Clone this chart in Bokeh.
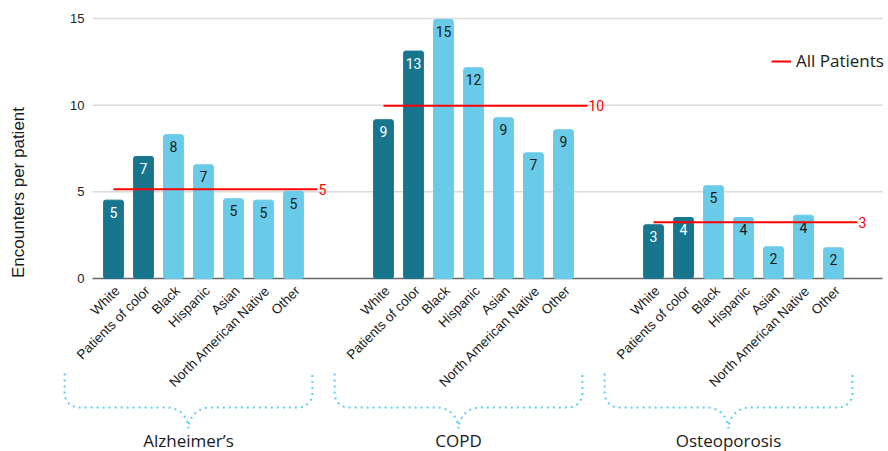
import numpy as np
from bokeh.plotting import figure
from bokeh.models import ColumnDataSource, Range1d
from bokeh.core.properties import value
from bokeh.embed import file_html
from bokeh.resources import INLINE

# ---------------- data ----------------
groups = ["Alzheimer\u2019s", "COPD", "Osteoporosis"]
categories = ["White", "Patients of color", "Black", "Hispanic", "Asian",
              "North American Native", "Other"]
alzheimers = [4.52, 7.04, 8.30, 6.56, 4.60, 4.52, 5.04]
copd = [9.16, 13.12, 14.94, 12.16, 9.27, 7.25, 8.58]
osteoporosis = [3.10, 3.52, 5.35, 3.52, 1.83, 3.65, 1.77]
all_patients = [5.15, 9.96, 3.25]
y_ticks = [0, 5, 10, 15]
y_title = "Encounters per patient"
legend_text = "All Patients"

# ---------------- styling / layout ----------------
DARK = "#18758e"
LIGHT = "#69cbe7"
RED = "#ff0000"
BRACE = "#5ad0ec"
W, H = 888, 451
UNIT_X = 30.0                 # px per category slot
ORIGIN_X = 113.0              # px of first bar centre
ZERO_Y, TOP_Y = 278.0, 18.0   # px of y=0 and y=15
GAP = 2                       # empty slots between groups
STEP = len(categories) + GAP
sy = (ZERO_Y - TOP_Y) / 15.0
sx = UNIT_X
x0, x1 = -ORIGIN_X / sx, (W - ORIGIN_X) / sx
y0, y1 = -(H - ZERO_Y) / sy, ZERO_Y / sy
grid_x0, grid_x1 = (92 - ORIGIN_X) / sx, (882 - ORIGIN_X) / sx

series = [alzheimers, copd, osteoporosis]
xs, tops, cols, lbls, lcols, cats = [], [], [], [], [], []
for g, vals in enumerate(series):
    for i, v in enumerate(vals):
        xs.append(g * STEP + i)
        tops.append(v)
        dark = i < 2
        cols.append(DARK if dark else LIGHT)
        lbls.append(str(int(round(v))))
        lcols.append("#ffffff" if dark else "#1a1a1a")
        cats.append(categories[i])
src = ColumnDataSource(dict(x=xs, top=tops, color=cols, lbl=lbls, lcol=lcols, cat=cats))

p = figure(width=W, height=H, x_range=Range1d(x0, x1), y_range=Range1d(y0, y1),
           min_border=0, x_axis_location=None, y_axis_location=None,
           output_backend="svg", toolbar_location=None)
p.outline_line_color = None
p.background_fill_color = "white"
p.grid.visible = False

# gridlines + y tick labels
n = len(y_ticks)
p.segment(x0=[grid_x0] * n, x1=[grid_x1] * n, y0=y_ticks, y1=y_ticks,
          line_color=["#666666"] + ["#dadada"] * (n - 1), line_width=1.5)
p.text(x=[grid_x0] * n, y=y_ticks, text=[str(t) for t in y_ticks],
       text_align="right", text_baseline="middle", x_offset=-8,
       text_font=value("Liberation Sans"), text_font_size="13px",
       text_color="#222222")

# bars
p.vbar(x="x", top="top", width=0.66, fill_color="color", line_color="color",
       border_radius=2, source=src)
p.text(x="x", y="top", text="lbl", text_color="lcol", text_align="center",
       text_baseline="middle", y_offset=12, text_font=value("Roboto"),
       text_font_size="14px", source=src)

# category labels (rotated)
p.text(x="x", y=0, text="cat", angle=np.pi / 4, text_align="right",
       text_baseline="middle", x_offset=4, y_offset=10,
       text_font=value("Liberation Sans"), text_font_size="13.5px",
       text_color="#1a1a1a", source=src)

# all-patients average lines
seg_x0 = [g * STEP for g in range(len(groups))]
seg_x1 = [g * STEP + len(categories) - 1 + 0.8 for g in range(len(groups))]
avg_src = ColumnDataSource(dict(x0=seg_x0, x1=seg_x1, y=all_patients,
                                lbl=[str(int(round(v))) for v in all_patients]))
p.segment(x0="x0", x1="x1", y0="y", y1="y", line_color=RED, line_width=2,
          source=avg_src, legend_label=legend_text)
p.text(x="x1", y="y", text="lbl", text_align="left", text_baseline="middle",
       x_offset=1, text_color=RED, text_font=value("Roboto"),
       text_font_size="14px", source=avg_src)

# braces + group names
def brace(cx, half_w):
    # geometry in pixels below the zero line, converted to data units
    top_px, mid_px, tip_px = 95, 129, 150
    r, r2 = 14, 21
    pts = []
    L = -half_w * sx
    R = half_w * sx
    pts.append((L, top_px))
    for t in np.linspace(np.pi, np.pi / 2, 8):
        pts.append((L + r + r * np.cos(t), mid_px - r + r * np.sin(t)))
    for t in np.linspace(np.pi / 2, 0, 8):
        pts.append((-r2 + r2 * np.cos(t), mid_px + r2 - r2 * np.sin(t)))
    for t in np.linspace(np.pi, np.pi / 2, 8):
        pts.append((r2 + r2 * np.cos(t), mid_px + r2 - r2 * np.sin(t)))
    for t in np.linspace(np.pi / 2, 0, 8):
        pts.append((R - r + r * np.cos(t), mid_px - r + r * np.sin(t)))
    pts.append((R, top_px))
    bx = [cx + px / sx for px, _ in pts]
    by = [-py / sy for _, py in pts]
    return bx, by, -tip_px / sy

bxs, bys, gx, gy = [], [], [], []
for g in range(len(groups)):
    cx = g * STEP + (len(categories) - 1) / 2 - 0.5
    bx, by, tip = brace(cx, 4.13)
    bxs.append(bx)
    bys.append(by)
    gx.append(cx)
    gy.append(tip)
p.multi_line(xs=bxs, ys=bys, line_color=BRACE, line_width=2, line_dash="2 4")
p.text(x=gx, y=gy, text=groups, text_align="center", text_baseline="middle",
       y_offset=12, text_font=value("Open Sans"), text_font_size="17px",
       text_color="#1a1a1a")

# y axis title
p.text(x=[(18 - ORIGIN_X) / sx], y=[(ZERO_Y - 192) / sy], text=[y_title],
       angle=np.pi / 2, text_align="center", text_baseline="middle",
       text_font=value("Liberation Sans"), text_font_size="17px",
       text_color="#1a1a1a")

# legend
lg = p.legend[0]
lg.location = (771, 379)
lg.padding = 0
lg.margin = 0
lg.border_line_color = None
lg.background_fill_alpha = 0
lg.glyph_width = 20
lg.label_standoff = 5
lg.label_text_font = "Open Sans"
lg.label_text_font_size = "17px"
lg.label_text_color = "#1a1a1a"

open("out.html", "w").write(file_html(p, INLINE))
